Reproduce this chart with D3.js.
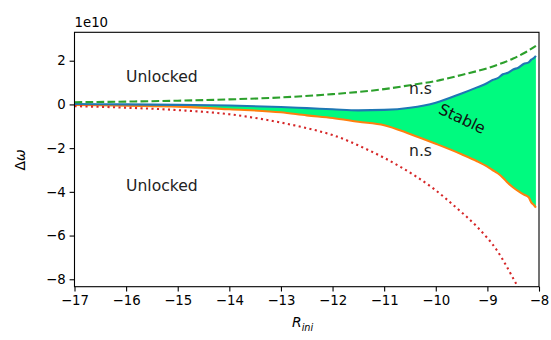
<!DOCTYPE html>
<html><head><meta charset="utf-8">
<script src="https://cdn.jsdelivr.net/npm/d3@7"></script>
<style>body{margin:0;background:#fff}svg{display:block}text{font-family:"DejaVu Sans",sans-serif}</style>
</head><body><svg id="c" width="551" height="340"></svg>
<script>
// ---- data (units of 1e10) ----
const xTicks = [-17,-16,-15,-14,-13,-12,-11,-10,-9,-8];
const yTicks = [-8,-6,-4,-2,0,2];
// upper unlocked limit (green dashed)
const upperX = [-17,-16,-15,-14,-13,-12,-11,-10.5,-10,-9.5,-9,-8.5,-8.25,-8.06];
const upperY = [0.1,0.13,0.17,0.23,0.32,0.47,0.7,0.88,1.07,1.35,1.66,2.1,2.4,2.68];
// lower unlocked limit (red dotted)
const lowerX = [-17,-16,-15,-14,-13.34,-12.57,-12,-11.34,-10.69,-10.05,-9.59,-9.2,-8.82,-8.43,-8.06];
const lowerY = [-0.08,-0.15,-0.26,-0.45,-0.68,-1.05,-1.40,-2.05,-2.85,-3.84,-4.75,-5.6,-6.66,-8.26,-9.9];
// stable region boundaries (blue top, orange bottom)
const stableX = [-17,-16,-15,-14,-13,-12.5,-12,-11.5,-11,-10.5,-10,-9.5,-9.2,-9,-8.9,-8.8,-8.7,-8.6,-8.5,-8.4,-8.3,-8.2,-8.15,-8.1,-8.06];
const stableTop = [0.02,0.0,-0.02,-0.05,-0.12,-0.17,-0.22,-0.27,-0.25,-0.15,0.08,0.5,0.78,0.98,1.12,1.2,1.38,1.45,1.6,1.68,1.85,1.92,2.05,2.12,2.22];
const stableBot = [-0.02,-0.06,-0.1,-0.22,-0.36,-0.5,-0.62,-0.79,-0.95,-1.35,-1.8,-2.28,-2.6,-2.85,-3.0,-3.15,-3.35,-3.6,-3.8,-3.97,-4.12,-4.25,-4.48,-4.6,-4.72];

const svg = d3.select("#c");
const L=74.5, R=539, T=32.3, B=286.7;
const x = d3.scaleLinear().domain([-17,-8]).range([L,R]);
const y = d3.scaleLinear().domain([-8.34,3.30]).range([B,T]);

svg.append("defs").append("clipPath").attr("id","clip")
  .append("rect").attr("x",L).attr("y",T).attr("width",R-L).attr("height",B-T);
const g = svg.append("g").attr("clip-path","url(#clip)");

const stable = stableX.map((v,i)=>({x:v,t:stableTop[i],b:stableBot[i]}));
g.append("path").datum(stable)
  .attr("d", d3.area().x(d=>x(d.x)).y0(d=>y(d.b)).y1(d=>y(d.t)).curve(d3.curveMonotoneX))
  .attr("fill","#00fa7f");

const line = d3.line().x(d=>x(d[0])).y(d=>y(d[1])).curve(d3.curveMonotoneX);
g.append("path").datum(stableX.map((v,i)=>[v,stableBot[i]])).attr("d",line)
  .attr("fill","none").attr("stroke","#ff7f0e").attr("stroke-width",2.1);
g.append("path").datum(stableX.map((v,i)=>[v,stableTop[i]])).attr("d",line)
  .attr("fill","none").attr("stroke","#1f77b4").attr("stroke-width",2.1);
g.append("path").datum(upperX.map((v,i)=>[v,upperY[i]])).attr("d",line)
  .attr("fill","none").attr("stroke","#2ca02c").attr("stroke-width",2.1).attr("stroke-dasharray","7.7,3.3");
g.append("path").datum(lowerX.map((v,i)=>[v,lowerY[i]])).attr("d",line)
  .attr("fill","none").attr("stroke","#d62728").attr("stroke-width",2.1).attr("stroke-dasharray","2.1,3.4");

// axes
const xa = svg.append("g").attr("transform",`translate(0,${B})`)
  .call(d3.axisBottom(x).tickValues(xTicks).tickSize(4.9).tickPadding(4).tickFormat(d3.format("d")));
const ya = svg.append("g").attr("transform",`translate(${L},0)`)
  .call(d3.axisLeft(y).tickValues(yTicks).tickSize(4.9).tickPadding(4).tickFormat(d3.format("d")));
[xa,ya].forEach(a=>{
  a.select(".domain").remove();
  a.selectAll("line").attr("stroke","#000").attr("stroke-width",1.1);
  a.selectAll("text").attr("font-size","13.3px").attr("fill","#000").attr("font-family","DejaVu Sans");
});
svg.append("rect").attr("x",L).attr("y",T).attr("width",R-L).attr("height",B-T)
  .attr("fill","none").attr("stroke","#000").attr("stroke-width",1.1);

svg.append("text").attr("x",L).attr("y",26.5).attr("font-size","13.3px").text("1e10");

// labels
const xl = svg.append("text").attr("x",292).attr("y",327).attr("font-size","13.9px");
xl.append("tspan").attr("font-style","italic").text("R");
xl.append("tspan").attr("font-style","italic").attr("font-size","9.7px").attr("dy",3.5).text("ini");
svg.append("text").attr("transform","translate(25,160) rotate(-90)").attr("text-anchor","middle")
  .attr("font-size","13.9px").html('Δ<tspan font-style="italic">ω</tspan>');

const ann = [["Unlocked",126,82],["Unlocked",126,191],["n.s",409,94],["n.s",409,156]];
ann.forEach(a=>svg.append("text").attr("x",a[1]).attr("y",a[2]).attr("font-size","15.6px").attr("fill","#222").text(a[0]));
svg.append("text").attr("transform","translate(462,119) rotate(25)").attr("text-anchor","middle")
  .attr("dominant-baseline","central").attr("font-size","15.6px").attr("fill","#111").text("Stable");
</script></body></html>
